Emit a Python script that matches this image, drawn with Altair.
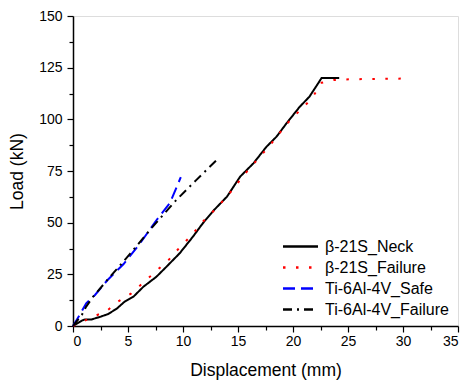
import altair as alt
import pandas as pd

series_names = ["β-21S_Neck", "β-21S_Failure", "Ti-6Al-4V_Safe", "Ti-6Al-4V_Failure"]

neck_x = [0, 0.8, 1.1, 1.7, 2.5, 3.2, 4.0, 4.7, 5.5, 6.4, 7.6, 8.5, 9.7, 10.9, 11.8, 12.8, 14.0, 15.2, 16.4, 17.6, 18.5, 19.4, 20.6, 21.5, 22.6, 24.2]
neck_y = [0, 2.6, 3.2, 3.2, 4.5, 5.8, 8.5, 11.8, 14.2, 19.0, 23.9, 28.7, 35.2, 43.2, 49.7, 56.0, 62.6, 72.3, 78.7, 86.8, 91.6, 98.0, 106.0, 111.0, 120.0, 120.0]

fail_x = [0, 0.6, 1.8, 3.0, 4.1, 5.3, 6.4, 7.5, 8.7, 9.7, 10.8, 11.8, 12.8, 14.0, 15.8, 17.8, 19.7, 21.7, 22.6, 23.7, 25.2, 29.8]
fail_y = [0, 1.3, 4.5, 7.0, 11.8, 15.8, 21.0, 26.3, 32.0, 38.0, 44.0, 50.5, 55.8, 62.6, 74.7, 86.8, 99.4, 110.0, 117.7, 119.0, 119.4, 119.7]

safe_x = [0, 0.6, 1.2, 2.0, 3.1, 4.6, 6.1, 7.6, 8.8, 9.8]
safe_y = [0, 5.3, 11.0, 15.0, 22.0, 30.0, 40.0, 51.3, 59.4, 72.0]

tif_x = [0, 0.8, 1.2, 1.8, 3.4, 5.2, 7.0, 9.4, 11.2, 13.0]
tif_y = [0, 5.3, 9.4, 14.0, 24.0, 35.0, 46.5, 61.0, 70.6, 80.0]

rows = []
for name, xs, ys in zip(series_names, [neck_x, fail_x, safe_x, tif_x], [neck_y, fail_y, safe_y, tif_y]):
    for i, (a, b) in enumerate(zip(xs, ys)):
        rows.append({"series": name, "disp": a, "load": b, "idx": i})
df = pd.DataFrame(rows)

x_ticks = [i * 2.5 for i in range(15)]
y_ticks = [i * 12.5 for i in range(13)]

font = "Liberation Sans"

chart = alt.Chart(df).mark_line(strokeWidth=2).encode(
    x=alt.X("disp:Q", title="Displacement (mm)",
            scale=alt.Scale(domain=[0, 35], nice=False, zero=False),
            axis=alt.Axis(values=x_ticks, grid=False,
                          labelExpr="datum.value % 5 == 0 ? datum.label : ''",
                          tickSize={"condition": {"test": "datum.value % 5 == 0", "value": 6}, "value": 4},
                          labelFontSize=14, titleFontSize=17.5, labelPadding=2, titlePadding=13,
                          labelFont=font, titleFont=font, titleFontWeight="normal",
                          labelColor="black", titleColor="black",
                          domainColor="black", domainWidth=1.5, tickColor="black", tickWidth=1.2)),
    y=alt.Y("load:Q", title="Load (kN)",
            scale=alt.Scale(domain=[0, 150], nice=False),
            axis=alt.Axis(values=y_ticks, grid=False,
                          labelExpr="datum.value % 25 == 0 ? datum.label : ''",
                          tickSize={"condition": {"test": "datum.value % 25 == 0", "value": 6}, "value": 4},
                          labelFontSize=14, titleFontSize=17.5, labelPadding=5, titlePadding=12,
                          labelFont=font, titleFont=font, titleFontWeight="normal",
                          labelColor="black", titleColor="black",
                          domainColor="black", domainWidth=1.5, tickColor="black", tickWidth=1.2)),
    color=alt.Color("series:N", sort=series_names,
                    scale=alt.Scale(domain=series_names, range=["#000000", "#ff0000", "#0000ff", "#000000"]),
                    legend=alt.Legend(title=None, orient="none", legendX=219, legendY=222,
                                      symbolType="M-2.5,0H2.5", symbolSize=196, symbolStrokeWidth=2.5,
                                      labelFontSize=16, labelFont=font, labelColor="black",
                                      rowPadding=4, labelOffset=16)),
    strokeDash=alt.StrokeDash("series:N", sort=series_names,
                              scale=alt.Scale(domain=series_names,
                                              range=[[1, 0], [2.5, 10.5], [12, 6], [9, 5, 2, 5]]),
                              legend=None),
    order="idx:Q",
).properties(
    width=385, height=310,
    padding={"left": 73, "top": 16, "right": 7, "bottom": 58},
    autosize=alt.AutoSizeParams(type="none"),
).configure_view(stroke="black", strokeWidth=1.5).configure(background="white")

chart.save("out.html", embed_options={"renderer": "svg", "actions": False})
